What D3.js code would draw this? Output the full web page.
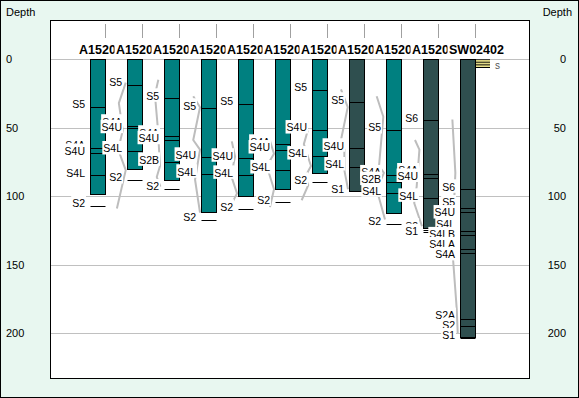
<!DOCTYPE html>
<meta charset="utf-8">
<style>body { margin: 0; } svg { display: block; }</style>
<svg width="579" height="398" font-family="'Liberation Sans', Arial, sans-serif" font-size="11"></svg>
<script src="https://d3js.org/d3.v7.min.js"></script>
<script>

// wells, left to right
var wells = ["A1520", "A1520", "A1520", "A1520", "A1520", "A1520", "A1520", "A1520", "A1520", "A1520", "SW02402"];
var wellStatus = ["open", "open", "open", "open", "open", "open", "open", "closed", "open", "closed", "closed"];
var totalDepth = [98.4, 80.2, 88.2, 111.8, 99.7, 94.6, 83.1, 95.9, 112.1, 123.5, 202.9];

// formation tops per well
var topNames = [
  ["S5", "S4A", "S4U", "S4L", "S2"],
  ["S5", "S4A", "S4U", "S4L", "S2"],
  ["S5", "S4A", "S4U", "S2B", "S2"],
  ["S5", "S4U", "S4L", "S2"],
  ["S5", "S4U", "S4L", "S2"],
  ["S4A", "S4U", "S4L", "S2"],
  ["S5", "S4U", "S4L", "S2"],
  ["S5", "S4U", "S4L", "S1"],
  ["S5", "S4A", "S2B", "S4L", "S2"],
  ["S6", "S4A", "S4U", "S4L", "S2", "S1"],
  ["S6", "S5", "S4U", "S4L", "S4LB", "S4LA", "S4A", "S2A", "S2", "S1"]
];
var topDepths = [
  [34.6, 65.0, 68.7, 84.8, 107.2],
  [18.8, 48.5, 50.4, 67.0, 88.2],
  [28.5, 56.0, 59.0, 75.3, 94.8],
  [35.8, 71.6, 84.0, 117.4],
  [32.7, 72.3, 84.8, 109.6],
  [62.1, 66.3, 80.9, 104.5],
  [22.4, 51.7, 70.7, 89.9],
  [31.4, 65.0, 78.7, 96.6],
  [51.7, 84.5, 89.4, 97.9, 120.4],
  [44.6, 83.8, 86.4, 101.6, 124.7, 126.2],
  [95.0, 108.9, 111.4, 125.2, 128.4, 138.8, 141.3, 190.0, 194.9, 203.6]
];

// gamma-ray style curve per well: [depth, value 0-100]
var grCurves = [
  [],
  [[17, 98], [32, 45], [52, 75], [66, 40], [81, 98], [109, 30]],
  [[15, 64], [26, 38], [50, 60], [78, 77], [86, 52], [93, 80]],
  [[27, 48], [35, 100], [59, 48], [66, 100], [88, 62], [112, 100]],
  [[60, 60], [71, 85], [85, 55], [98, 100], [108, 46]],
  [[60, 70], [69, 100], [78, 44], [95, 100], [108, 69]],
  [[52, 75], [62, 45], [78, 100], [86, 54], [92, 79], [103, 28]],
  [[22, 46], [35, 98], [59, 46], [66, 72], [81, 72], [95, 100]],
  [[27, 36], [42, 87], [78, 54], [83, 92], [95, 36], [117, 100]],
  [[59, 46], [66, 80], [93, 59], [105, 40], [122, 100]],
  [[44, 49], [83, 72], [110, 60], [147, 55], [183, 83], [200, 90]]
];

// lithology interval on the last well
var lithoTop = [0];
var lithoBase = [5.8];
var lithoLabel = ["s"];

var depthTicks = [0, 50, 100, 150, 200];

var svg = d3.select("svg"),
    width = +svg.attr("width"),
    height = +svg.attr("height"),
    plot = {left: 50.5, top: 20.5, right: 529.5, bottom: 378.5},
    barW = 15;

var x = d3.scalePoint()
    .domain(d3.range(wells.length))
    .range([105.3, 474.7]);

var y = d3.scaleLinear()
    .domain([0, 200])
    .range([59.3, 333]);

var z = d3.scaleOrdinal()
    .domain(["open", "closed"])
    .range(["#008080", "#2f4f4f"]);

var gr = d3.scaleLinear().domain([0, 100]).range([-14, -1]);

function barLeft(i) { return Math.round(x(i)) - barW; }
function py(v) { return Math.round(y(v)) + 0.5; }

// background
svg.append("rect")
    .attr("x", 0.5).attr("y", 0.5)
    .attr("width", width - 1).attr("height", height - 1)
    .attr("fill", "#e8f7f0")
    .attr("stroke", "#000");

svg.append("rect")
    .attr("x", plot.left).attr("y", plot.top)
    .attr("width", plot.right - plot.left).attr("height", plot.bottom - plot.top)
    .attr("fill", "#fff")
    .attr("stroke", "#000");

// grid
svg.append("g").selectAll("line")
    .data(depthTicks)
    .enter().append("line")
      .attr("x1", plot.left + 0.5).attr("x2", plot.right - 0.5)
      .attr("y1", function(d) { return py(d); })
      .attr("y2", function(d) { return py(d); })
      .attr("stroke", "#c0c0c0");

// axis labels both sides
svg.append("text").attr("x", 6).attr("y", 16).text("Depth");
svg.append("text").attr("x", 572).attr("y", 16).attr("text-anchor", "end").text("Depth");

svg.append("g").selectAll("text")
    .data(depthTicks)
    .enter().append("text")
      .attr("x", 6)
      .attr("y", function(d) { return y(d); })
      .attr("dy", "0.36em")
      .text(function(d) { return d; });

svg.append("g").selectAll("text")
    .data(depthTicks)
    .enter().append("text")
      .attr("x", 566)
      .attr("y", function(d) { return y(d); })
      .attr("dy", "0.36em")
      .attr("text-anchor", "end")
      .text(function(d) { return d; });

// well header
svg.append("g").selectAll("line")
    .data(d3.range(wells.length))
    .enter().append("line")
      .attr("x1", function(i) { return Math.round(x(i)) + 0.5; })
      .attr("x2", function(i) { return Math.round(x(i)) + 0.5; })
      .attr("y1", 24).attr("y2", 38)
      .attr("stroke", "#a0a0a0");

var head = svg.append("g")
    .attr("font-weight", "bold")
    .attr("font-size", 12.5)
  .selectAll("g")
  .data(d3.range(wells.length))
  .enter().append("g");

head.append("rect").attr("fill", "#fff");
head.append("text")
    .attr("x", function(i) { return barLeft(i) - 11; })
    .attr("y", 54)
    .text(function(i) { return wells[i]; });
head.each(function(i) {
  var g = d3.select(this),
      w = g.select("text").node().getComputedTextLength();
  g.select("rect")
      .attr("x", barLeft(i) - 12.5)
      .attr("y", 42)
      .attr("width", w + 3)
      .attr("height", 14);
});

// log curves
var curve = d3.line()
    .x(function(d) { return d[0]; })
    .y(function(d) { return d[1]; });

svg.append("g")
  .selectAll("path")
  .data(d3.range(wells.length))
  .enter().append("path")
    .attr("fill", "none")
    .attr("stroke", "#bdbdbd")
    .attr("stroke-width", 2)
    .attr("stroke-linejoin", "round")
    .attr("d", function(i) {
      if (!grCurves[i].length) return null;
      return curve(grCurves[i].map(function(p) { return [barLeft(i) + gr(p[1]), y(p[0])]; }));
    });

// bars
var well = svg.append("g")
  .selectAll("g")
  .data(d3.range(wells.length))
  .enter().append("g");

well.append("rect")
    .attr("x", function(i) { return barLeft(i) + 0.5; })
    .attr("y", py(0))
    .attr("width", barW)
    .attr("height", function(i) { return py(totalDepth[i]) - py(0); })
    .attr("fill", function(i) { return z(wellStatus[i]); })
    .attr("stroke", "#000");

well.selectAll("line")
    .data(function(i) { return topDepths[i].map(function(d) { return {well: i, depth: d}; }); })
    .enter().append("line")
      .attr("x1", function(d) { return barLeft(d.well) + 0.5; })
      .attr("x2", function(d) { return barLeft(d.well) + barW + 0.5; })
      .attr("y1", function(d) { return py(d.depth); })
      .attr("y2", function(d) { return py(d.depth); })
      .attr("stroke", "#000");

// lithology strip
var hatch = svg.append("defs").append("pattern")
    .attr("id", "sand")
    .attr("patternUnits", "userSpaceOnUse")
    .attr("width", 4).attr("height", 2.7)
    .attr("y", py(0) - 0.5);
hatch.append("rect").attr("width", 4).attr("height", 2.7).attr("fill", "#eee68c");
hatch.append("rect").attr("width", 4).attr("height", 1).attr("fill", "#000");

lithoTop.forEach(function(t, k) {
  var xl = Math.round(x(wells.length - 1)) + 1;
  svg.append("rect")
      .attr("x", xl).attr("y", y(t))
      .attr("width", 14).attr("height", y(lithoBase[k]) - y(t))
      .attr("fill", "url(#sand)");
  svg.append("line")
      .attr("x1", xl).attr("x2", xl + 14)
      .attr("y1", py(lithoBase[k])).attr("y2", py(lithoBase[k]))
      .attr("stroke", "#000");
  svg.append("text")
      .attr("x", xl + 19)
      .attr("y", (y(t) + y(lithoBase[k])) / 2 + 2)
      .attr("dy", "0.36em")
      .attr("font-size", 10)
      .attr("fill", "#555")
      .text(lithoLabel[k]);
});

// top labels: close picks are allowed to stack, long lists get spread out
function layout(i) {
  var gap = topNames[i].length > 6 ? 10 : 5.5;
  var items = topNames[i].map(function(n, k) {
    return {name: n, well: i, c: y(topDepths[i][k]) - 2.5};
  });
  for (var it = 0; it < 60; it++) {
    for (var k = 0; k < items.length - 1; k++) {
      var a = items[k], b = items[k + 1];
      if (b.c - a.c < gap) {
        var m = (a.c + b.c) / 2;
        a.c = m - gap / 2;
        b.c = m + gap / 2;
      }
    }
  }
  return items;
}

var labels = svg.append("g")
    .attr("font-size", 10.5)
  .selectAll("g")
  .data(d3.range(wells.length))
  .enter().append("g")
  .selectAll("g")
  .data(layout)
  .enter().append("g");

labels.append("rect").attr("fill", "#fff");
labels.append("text")
    .attr("x", function(d) { return barLeft(d.well) - 5; })
    .attr("y", function(d) { return d.c; })
    .attr("dy", "0.36em")
    .attr("text-anchor", "end")
    .text(function(d) { return d.name; });
labels.each(function(d) {
  var g = d3.select(this),
      w = g.select("text").node().getComputedTextLength();
  g.select("rect")
      .attr("x", barLeft(d.well) - 5 - w - 1)
      .attr("y", d.c - 7.5)
      .attr("width", w + 2)
      .attr("height", 13.5);
});

</script>
